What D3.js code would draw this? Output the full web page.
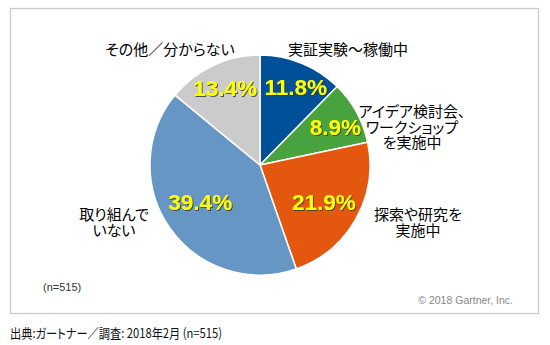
<!DOCTYPE html>
<html>
<head>
<meta charset="utf-8">
<script src="https://cdn.jsdelivr.net/npm/d3@7"></script>
<style>
  html, body { margin: 0; padding: 0; background: #fff; }
  svg text { font-family: "Noto Sans CJK JP", "Noto Sans", sans-serif; }
</style>
</head>
<body>
<svg id="chart" width="550" height="345"></svg>
<script>
// Survey: status of initiatives (n=515)
const categories = ["実証実験～稼働中", "アイデア検討会、ワークショップを実施中", "探索や研究を実施中", "取り組んでいない", "その他／分からない"];
const labelLines = [["実証実験～稼働中"], ["アイデア検討会、", "ワークショップ", "を実施中"], ["探索や研究を", "実施中"], ["取り組んで", "いない"], ["その他／分からない"]];
const values = [11.8, 8.9, 21.9, 39.4, 13.4];
const colors = ["#004f99", "#48a33f", "#e3570f", "#6596c4", "#cbcbcb"];
const sampleNote = "(n=515)";
const copyright = "© 2018 Gartner, Inc.";
const sourceNote = "出典:ガートナー／調査: 2018年2月 (n=515)";

// Category label placement, relative to the pie centre (dx, dy of the first line's centre)
const nameLayout = [[88, -115], [152, -53], [158, 50], [-146, 50], [-90, -115]];
// Small nudges of the percentage labels away from the slice centroids
const pctNudge = [[5, -3], [4, 1], [-7, -3], [7, -10], [0, -4]];

const svg = d3.select("#chart");
const cx = 260, cy = 165, r = 110;

const defs = svg.append("defs");
const shadow = defs.append("filter").attr("id", "lblShadow")
  .attr("x", "-20%").attr("y", "-20%").attr("width", "140%").attr("height", "140%");
shadow.append("feDropShadow").attr("dx", 1).attr("dy", 1).attr("stdDeviation", 0.7)
  .attr("flood-color", "#3a3a3a").attr("flood-opacity", 0.85);

// Chart frame
svg.append("rect").attr("x", 10.5).attr("y", 8.5).attr("width", 528).attr("height", 305)
  .attr("fill", "#fff").attr("stroke", "#cacaca").attr("stroke-width", 1.3);

const pie = d3.pie().sort(null).value(d => d)
  .startAngle(0).endAngle(2 * Math.PI);
const arcs = pie(values);
const arc = d3.arc().innerRadius(0).outerRadius(r);
const labelArc = d3.arc().innerRadius(r * 0.74).outerRadius(r * 0.74);

const g = svg.append("g").attr("transform", `translate(${cx},${cy})`);

g.selectAll("path.slice").data(arcs).join("path")
  .attr("class", "slice")
  .attr("d", arc)
  .attr("fill", (d, i) => colors[i])
  .attr("stroke", "#fff").attr("stroke-width", 1.5).attr("stroke-linejoin", "round");

// Percentage labels
g.selectAll("text.pct").data(arcs).join("text")
  .attr("class", "pct")
  .attr("transform", (d, i) => {
    const [x, y] = labelArc.centroid(d);
    return `translate(${x + pctNudge[i][0]},${y + pctNudge[i][1]})`;
  })
  .attr("text-anchor", "middle")
  .attr("dy", "0.36em")
  .style("font-family", "'Liberation Sans', Arial, sans-serif")
  .style("font-weight", "bold")
  .style("font-size", "22.5px")
  .attr("fill", "#ffff00")
  .attr("filter", "url(#lblShadow)")
  .text(d => d.data.toFixed(1) + "%");

// Category names
const names = g.selectAll("text.name").data(labelLines).join("text")
  .attr("class", "name")
  .attr("text-anchor", "middle")
  .style("font-size", "15px")
  .style("font-feature-settings", "'palt'")
  .attr("fill", "#000")
  .attr("transform", (d, i) => `translate(${nameLayout[i][0]},${nameLayout[i][1]})`);
names.selectAll("tspan").data(d => d).join("tspan")
  .attr("x", 0)
  .attr("y", (d, j) => j * 15.5)
  .attr("dy", "0.35em")
  .text(d => d);

// Notes
svg.append("text").attr("x", 43).attr("y", 291)
  .style("font-family", "'Liberation Sans', Arial, sans-serif")
  .style("font-size", "11px").attr("fill", "#333").text(sampleNote);

svg.append("text").attr("x", 513).attr("y", 304).attr("text-anchor", "end")
  .style("font-family", "'Liberation Sans', Arial, sans-serif")
  .style("font-size", "10.5px").attr("fill", "#888").text(copyright);

svg.append("text").attr("x", 10).attr("y", 338)
  .style("font-size", "13px")
  .style("font-feature-settings", "'palt'")
  .attr("textLength", 212).attr("lengthAdjust", "spacingAndGlyphs")
  .attr("fill", "#111").text(sourceNote);
</script>
</body>
</html>
